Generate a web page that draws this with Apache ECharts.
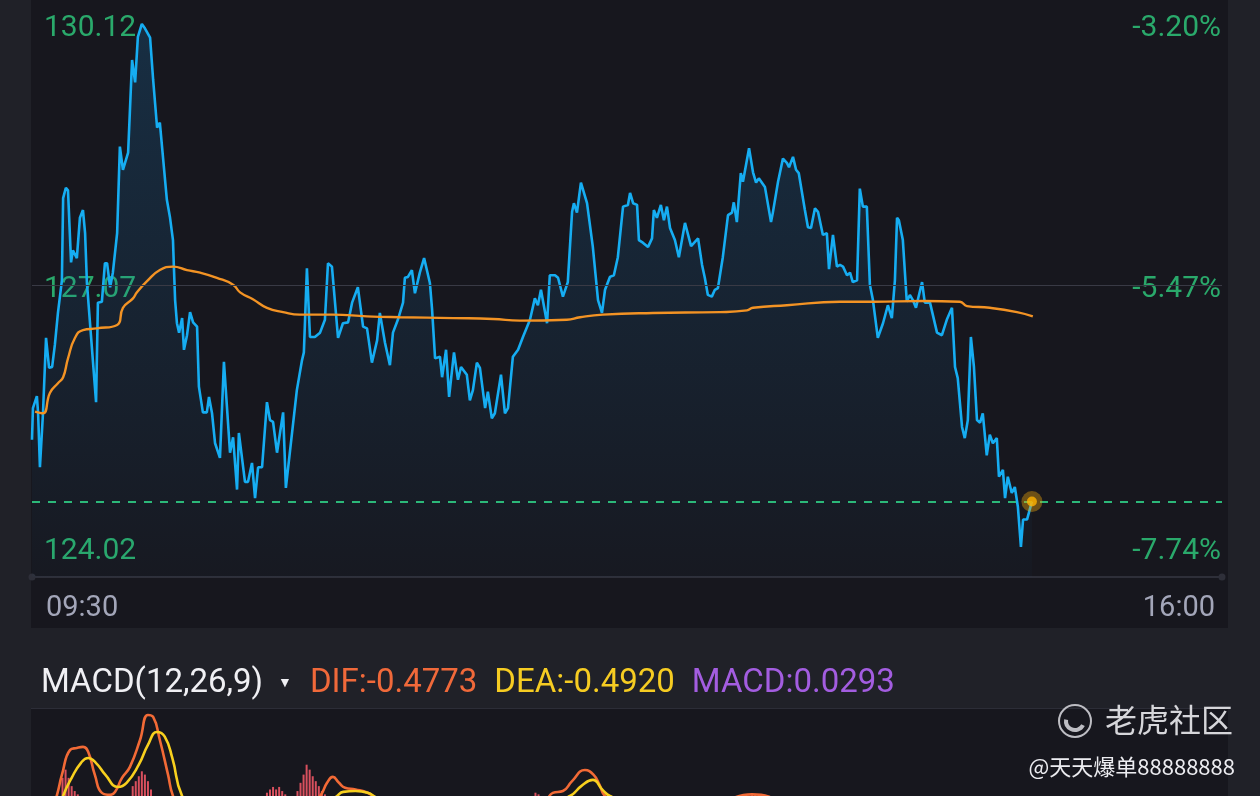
<!DOCTYPE html>
<html><head><meta charset="utf-8">
<script src="https://cdn.jsdelivr.net/npm/echarts@6/dist/echarts.min.js"></script>
<style>html,body{margin:0;padding:0;background:#202128;overflow:hidden}#c{width:1260px;height:796px}</style>
</head><body><div id="c"></div>
<script>
// ---------- DATA ----------
// minutes after 09:30, price
const pricePoints = [[0,125.27],[0.3,125.64],[1.6,125.78],[2,125.58],[2.6,124.95],[3.6,125.58],[4.6,126.46],[5.6,126.11],[6.6,126.12],[7.5,126.38],[8.5,126.75],[9.8,127.13],[10.2,128.09],[11.1,128.21],[11.8,128.18],[12.8,127.34],[13.4,127.48],[14.7,127.39],[15.7,127.86],[16.7,127.95],[17.4,127.68],[18,127.10],[21,125.71],[21.6,126.87],[22.9,126.88],[23.9,127.33],[24.6,127.33],[25.6,127.05],[26.5,127.22],[27.9,127.68],[28.8,128.69],[29.8,128.42],[31.5,128.62],[32.8,129.70],[33.8,129.44],[34.7,129.97],[36,130.12],[37,130.07],[38.7,129.96],[39.7,129.47],[41,128.91],[41.9,128.97],[44.2,128.07],[45.2,127.87],[46.2,127.60],[46.5,127.29],[46.9,126.90],[47.5,126.63],[48.2,126.52],[49.2,126.69],[49.8,126.32],[50.8,126.49],[51.8,126.76],[52.8,126.64],[54.1,126.59],[54.7,125.89],[56,125.59],[57.3,125.59],[58,125.77],[59,125.58],[60,125.23],[61.6,125.06],[62.9,126.18],[64.9,125.12],[65.9,125.30],[67.2,124.69],[67.8,125.35],[69.8,124.78],[70.8,124.78],[72.1,125.00],[73.1,124.59],[74.1,124.95],[75.4,124.95],[77,125.71],[78,125.50],[79,125.48],[80.3,125.12],[82.3,125.59],[83.2,124.71],[84.5,125.12],[86.8,125.85],[88.5,126.20],[89.1,126.29],[90.1,127.27],[91.1,126.47],[92.7,126.47],[94.4,126.52],[96,126.67],[97,127.33],[98.3,127.29],[100.3,126.46],[101.9,126.63],[103.6,126.64],[104.9,126.87],[106.8,127.05],[108.5,126.59],[109.8,126.57],[111.4,126.17],[113.1,126.43],[114,126.75],[115.7,126.40],[117.3,126.14],[118.3,126.52],[119.9,126.67],[121.6,126.87],[122.2,127.16],[123.2,127.17],[124.5,127.25],[125.5,126.98],[127.1,127.22],[128.5,127.39],[130.4,127.10],[131.1,126.80],[132.1,126.22],[133.7,126.24],[134.4,126.00],[135.7,126.32],[136.7,125.77],[138.3,126.29],[139.6,125.97],[140.6,126.12],[142.5,126.03],[143.5,125.73],[144.5,125.85],[145.8,126.17],[146.8,126.11],[148.5,125.64],[149.4,125.83],[150.7,125.52],[151.7,125.58],[153.7,126.03],[155,125.58],[156,125.64],[157.6,126.24],[159.3,126.32],[160.9,126.47],[163.2,126.67],[164.8,126.92],[165.8,126.84],[166.8,127.02],[168.8,126.63],[169.7,127.19],[171.4,127.19],[172.4,127.16],[174,126.94],[175.6,127.11],[177,127.93],[177.6,128.03],[178.6,127.92],[179.9,128.27],[181.9,128.03],[183.8,127.52],[185.5,126.90],[186.8,126.75],[187.8,127.02],[189.4,127.17],[190.7,127.19],[192,127.40],[193.7,127.99],[195.3,128.01],[196,128.15],[197,128.03],[198.3,128.01],[198.9,127.60],[200.2,127.57],[201.9,127.52],[203.2,127.62],[203.8,127.95],[204.8,127.86],[206.1,128.01],[207.1,127.83],[208.1,127.99],[209.1,127.74],[210.7,127.60],[212,127.40],[214,127.80],[216,127.53],[216.6,127.52],[218.3,127.62],[219.6,127.31],[220.5,127.16],[221.5,126.96],[222.8,126.94],[223.8,127.02],[224.8,127.04],[226.4,127.40],[228.1,127.89],[229.4,127.92],[230,128.04],[231,127.81],[232.3,128.38],[233,128.28],[235,128.67],[236.3,128.39],[237.3,128.27],[238.2,128.32],[240.2,128.22],[242.2,127.81],[242.8,127.92],[244.5,128.28],[246.1,128.55],[247.4,128.50],[248.1,128.45],[249.4,128.57],[250.4,128.42],[251.3,128.38],[253.3,127.95],[254.3,127.75],[255.3,127.74],[256.6,127.97],[257.6,127.93],[259.2,127.66],[260.5,127.68],[261.2,127.26],[262.5,127.66],[263.8,127.29],[264.8,127.31],[265.8,127.29],[267.1,127.19],[268.1,127.22],[269,127.11],[270.4,127.13],[271.3,128.20],[272.3,127.99],[273.6,127.99],[274.6,127.08],[275.6,126.90],[277.2,126.46],[278.9,126.63],[280.5,126.84],[281.8,126.69],[282.8,127.13],[283.5,127.86],[284.1,127.83],[285.4,127.60],[286.7,126.88],[287.7,126.96],[288.7,126.90],[289.7,126.81],[291.7,127.11],[292.6,126.87],[294.3,126.87],[296.6,126.52],[298.2,126.49],[299.8,126.67],[301.5,126.81],[302.5,126.12],[303.4,125.99],[304.8,125.42],[305.7,125.29],[306.7,125.50],[307.7,126.47],[308.7,126.12],[309.7,125.50],[310.7,125.47],[311.6,125.58],[312.9,125.09],[313.9,125.33],[314.9,125.23],[316.2,125.29],[316.9,124.84],[318.2,124.92],[318.9,124.59],[319.8,124.84],[321.1,124.65],[322.1,124.72],[323.1,124.49],[324.1,124.02],[324.8,124.34],[326.1,124.34],[327.7,124.55]];
const avgPoints = [[1,125.60],[3.6,125.58],[5.9,125.82],[8.5,125.93],[10.2,126.00],[11.8,126.22],[14.1,126.46],[16.7,126.55],[21.3,126.57],[27.9,126.61],[29.8,126.81],[33.1,126.92],[34.4,126.99],[37.7,127.12],[41.9,127.25],[46.2,127.29],[50.8,127.25],[55.1,127.22],[60.6,127.16],[65.9,127.08],[68.2,126.99],[72.4,126.91],[77,126.81],[82.3,126.76],[87.8,126.73],[98.6,126.73],[109.8,126.71],[120.6,126.70],[138,126.69],[151.1,126.68],[159.9,126.66],[175.3,126.67],[179.6,126.70],[187.1,126.73],[203.5,126.75],[225.5,126.76],[234.3,126.78],[236.3,126.81],[247.4,126.84],[264.8,126.88],[275.6,126.88],[292,126.89],[304.1,126.88],[306.4,126.83],[313.9,126.81],[322.8,126.76],[328,126.71]];
const lastPoint = [327.7, 124.55];
const priceTicks = [124.02, 127.07, 130.12];
const priceTickLabels = ['124.02', '127.07', '130.12'];
const pctTickLabels = ['-7.74%', '-5.47%', '-3.20%'];
const timeTicks = [0, 390];
const timeLabels = ['09:30', '16:00'];

const difPoints = [[0,0],[5,0.3],[8.2,0.497],[9.8,0.618],[12.5,0.77],[14.7,0.782],[16.7,0.788],[18.4,0.758],[20.6,0.618],[22.9,0.509],[25.6,0.497],[27.2,0.515],[29.5,0.6],[32.1,0.667],[35.4,0.83],[38,0.982],[39.7,0.97],[41.9,0.83],[44.6,0.618],[46.2,0.491],[52,0.25],[62,0.05],[72,0.15],[82,0.3],[90,0.42],[94.4,0.49],[96.7,0.57],[98.6,0.606],[100.6,0.57],[102.6,0.54],[106,0.53],[110,0.51],[113,0.47],[125,0.3],[145,0.25],[160,0.35],[168,0.45],[170.7,0.509],[174,0.52],[177,0.58],[181.2,0.648],[184,0.62],[186,0.558],[187.8,0.49],[195,0.4],[215,0.35],[236,0.5],[250,0.4],[270,0.2],[290,0.1],[305,-0.05],[318,-0.3],[328,-0.4773]];
const deaPoints = [[0,0],[5,0.2],[10.2,0.49],[13,0.6],[16,0.69],[18.4,0.721],[21,0.69],[24,0.62],[28.2,0.545],[31,0.57],[35,0.68],[38,0.8],[41,0.879],[43.5,0.85],[46,0.72],[49.2,0.49],[55,0.35],[65,0.15],[80,0.2],[90,0.35],[100,0.49],[102,0.515],[106,0.52],[110,0.51],[113,0.48],[130,0.35],[160,0.36],[176.3,0.49],[180,0.55],[183.8,0.588],[187,0.527],[189.4,0.49],[200,0.42],[240,0.42],[280,0.2],[310,-0.15],[328,-0.492]];
const histPoints = [[10,0.6],[11,0.65],[12,0.6],[13,0.55],[14,0.52],[15,0.5],[33,0.55],[34,0.58],[35,0.61],[36,0.64],[37,0.62],[38,0.58],[39,0.53],[77,0.51],[78,0.53],[79,0.545],[80,0.53],[81,0.545],[82,0.52],[83,0.5],[87,0.52],[88,0.57],[89,0.62],[90,0.68],[91,0.65],[92,0.61],[93,0.58],[94,0.55],[95,0.52],[96,0.5],[165,0.51],[166,0.5],[236,0.505],[237,0.5],[328,0.0293]];
const macdTitle = 'MACD(12,26,9)';
const difLabel = 'DIF:-0.4773';
const deaLabel = 'DEA:-0.4920';
const macdLabel = 'MACD:0.0293';
const brandText = '老虎社区';
const userText = '@天天爆单88888888';

// ---------- LAYOUT ----------
const G = {left: 32, right: 38, top: 0, height: 577};
const pxHigh = 24, pxLow = 547;        // pixel rows of the top & bottom price ticks
const perPx = (priceTicks[2] - priceTicks[0]) / (pxLow - pxHigh);
const yMax = priceTicks[2] + (pxHigh - G.top) * perPx;
const yMin = priceTicks[0] - (G.top + G.height - pxLow) * perPx;
const FONT = 'Roboto, "Noto Sans", sans-serif';
const green = '#2aa96b';
// visible window of the MACD pane (the pane continues below the screen edge)
const macdView = {min: 0.49, max: 1.0};

const chart = echarts.init(document.getElementById('c'), null, {renderer: 'canvas'});
const richBase = {fontFamily: FONT, fontSize: 33, fontWeight: 'normal', lineHeight: 40};
const tickRich = {p: {fontFamily: FONT, fontSize: 30, color: green, padding: [8, 0, 0, 0]}};
chart.setOption({
  backgroundColor: '#202128',
  animation: false,
  title: {
    left: 41, top: 664, padding: 0,
    text: `{n|${macdTitle}}{t|▼}{d|${difLabel}}{e|${deaLabel}}{m|${macdLabel}}`,
    textStyle: {
      fontWeight: 'normal',
      rich: {
        n: Object.assign({}, richBase, {color: '#f0f0f4'}),
        t: Object.assign({}, richBase, {fontSize: 14, color: '#f0f0f4', padding: [0, 0, 2, 15]}),
        d: Object.assign({}, richBase, {color: '#f0693a', padding: [0, 0, 0, 18]}),
        e: Object.assign({}, richBase, {color: '#f6cc22', padding: [0, 0, 0, 17]}),
        m: Object.assign({}, richBase, {color: '#a35de0', padding: [0, 0, 0, 17]})
      }
    }
  },
  graphic: [
    {type: 'rect', z: -10, shape: {x: 31, y: 0, width: 1197, height: 628}, style: {fill: '#17171e'}, silent: true},
    {type: 'rect', z: -10, shape: {x: 31, y: 709, width: 1197, height: 90}, style: {fill: '#17171e'}, silent: true},
    {type: 'rect', z: -9, shape: {x: 31, y: 708, width: 1197, height: 1}, style: {fill: '#2c2d37'}, silent: true},
    {type: 'circle', z: 20, shape: {cx: 1075, cy: 721, r: 16}, style: {fill: 'none', stroke: '#bdbdc3', lineWidth: 2}, silent: true},
    {type: 'arc', z: 20, shape: {cx: 1075, cy: 721, r: 9, startAngle: 0.15 * Math.PI, endAngle: 1.05 * Math.PI}, style: {fill: 'none', stroke: '#bdbdc3', lineWidth: 4}, silent: true},
    {type: 'text', z: 20, x: 1105, y: 720, style: {text: brandText, font: '32px "Noto Sans CJK SC"', fill: '#d6d6da', verticalAlign: 'middle'}, silent: true},
    {type: 'text', z: 20, x: 1235, y: 767, style: {text: userText, font: '22px "Noto Sans CJK SC"', fill: '#ececf0', align: 'right', verticalAlign: 'middle'}, silent: true}
  ],
  grid: [
    {left: G.left, right: G.right, top: G.top, height: G.height},
    {left: G.left, right: G.right, top: 712, bottom: 0}
  ],
  xAxis: [
    {
      type: 'value', gridIndex: 0, min: 0, max: 390,
      axisLine: {show: true, onZero: false, lineStyle: {color: '#2e2f39', width: 2}, symbol: ['circle', 'circle'], symbolSize: [7, 7]},
      axisTick: {show: false}, splitLine: {show: false},
      axisLabel: {
        customValues: timeTicks, margin: 17,
        alignMinLabel: 'left', alignMaxLabel: 'right',
        fontFamily: FONT, fontSize: 29, color: '#a3a6b9',
        formatter: v => { const i = timeTicks.indexOf(v); return i === 0 ? `{l|${timeLabels[i]}}` : `{r|${timeLabels[i]}}`; },
        rich: {
          l: {fontFamily: FONT, fontSize: 29, color: '#a3a6b9', padding: [0, 0, 0, 14]},
          r: {fontFamily: FONT, fontSize: 29, color: '#a3a6b9', padding: [0, 7, 0, 0]}
        }
      }
    },
    {type: 'value', gridIndex: 1, min: 0, max: 390, show: false}
  ],
  yAxis: [
    {
      type: 'value', gridIndex: 0, position: 'left', min: yMin, max: yMax,
      axisLine: {show: false}, axisTick: {show: false}, splitLine: {show: false},
      axisLabel: {
        inside: true, margin: 12, customValues: priceTicks,
        fontFamily: FONT, fontSize: 30, color: green, rich: tickRich,
        formatter: v => `{p|${priceTickLabels[priceTicks.indexOf(v)]}}`
      }
    },
    {
      type: 'value', gridIndex: 0, position: 'right', min: yMin, max: yMax,
      axisLine: {show: false}, axisTick: {show: false}, splitLine: {show: false},
      axisLabel: {
        inside: true, margin: 1, customValues: priceTicks,
        fontFamily: FONT, fontSize: 30, color: green, rich: tickRich,
        formatter: v => `{p|${pctTickLabels[priceTicks.indexOf(v)]}}`
      }
    },
    {type: 'value', gridIndex: 1, min: macdView.min, max: macdView.max, show: false}
  ],
  series: [
    {
      type: 'line', xAxisIndex: 0, yAxisIndex: 0, data: [], z: 1, silent: true,
      markLine: {
        silent: true, symbol: ['none', 'none'], label: {show: false}, animation: false,
        data: [{yAxis: priceTicks[1], lineStyle: {color: '#393a45', width: 1, type: 'solid'}}]
      }
    },
    {
      type: 'line', xAxisIndex: 0, yAxisIndex: 0, data: pricePoints, z: 3,
      showSymbol: false, smooth: false,
      lineStyle: {color: '#16adf2', width: 2.6},
      areaStyle: {
        origin: 'start',
        color: new echarts.graphic.LinearGradient(0, 0, 0, 1, [
          {offset: 0, color: 'rgba(24,120,185,0.34)'},
          {offset: 1, color: 'rgba(24,120,185,0.03)'}
        ])
      }
    },
    {
      type: 'line', xAxisIndex: 0, yAxisIndex: 0, data: avgPoints, z: 4,
      showSymbol: false, smooth: true,
      lineStyle: {color: '#f39324', width: 2.4}
    },
    {
      type: 'line', xAxisIndex: 0, yAxisIndex: 0, data: [], z: 5,
      markLine: {
        silent: true, symbol: ['none', 'none'], label: {show: false}, animation: false,
        data: [{yAxis: lastPoint[1], lineStyle: {color: '#2cb879', width: 2, type: [8, 8]}}]
      }
    },
    {type: 'scatter', xAxisIndex: 0, yAxisIndex: 0, data: [lastPoint], symbolSize: 21, z: 6, itemStyle: {color: 'rgba(240,168,10,0.5)'}},
    {type: 'scatter', xAxisIndex: 0, yAxisIndex: 0, data: [lastPoint], symbolSize: 10, z: 7, itemStyle: {color: '#ffb300'}},
    {type: 'bar', xAxisIndex: 1, yAxisIndex: 2, data: histPoints, barWidth: 2, z: 2, clip: true, itemStyle: {color: '#d9505e'}},
    {type: 'line', xAxisIndex: 1, yAxisIndex: 2, data: difPoints, smooth: true, showSymbol: false, z: 3, clip: true, lineStyle: {color: '#f26a36', width: 2.6}},
    {type: 'line', xAxisIndex: 1, yAxisIndex: 2, data: deaPoints, smooth: true, showSymbol: false, z: 4, clip: true, lineStyle: {color: '#f8d01e', width: 2.6}}
  ]
});
</script>
</body></html>
